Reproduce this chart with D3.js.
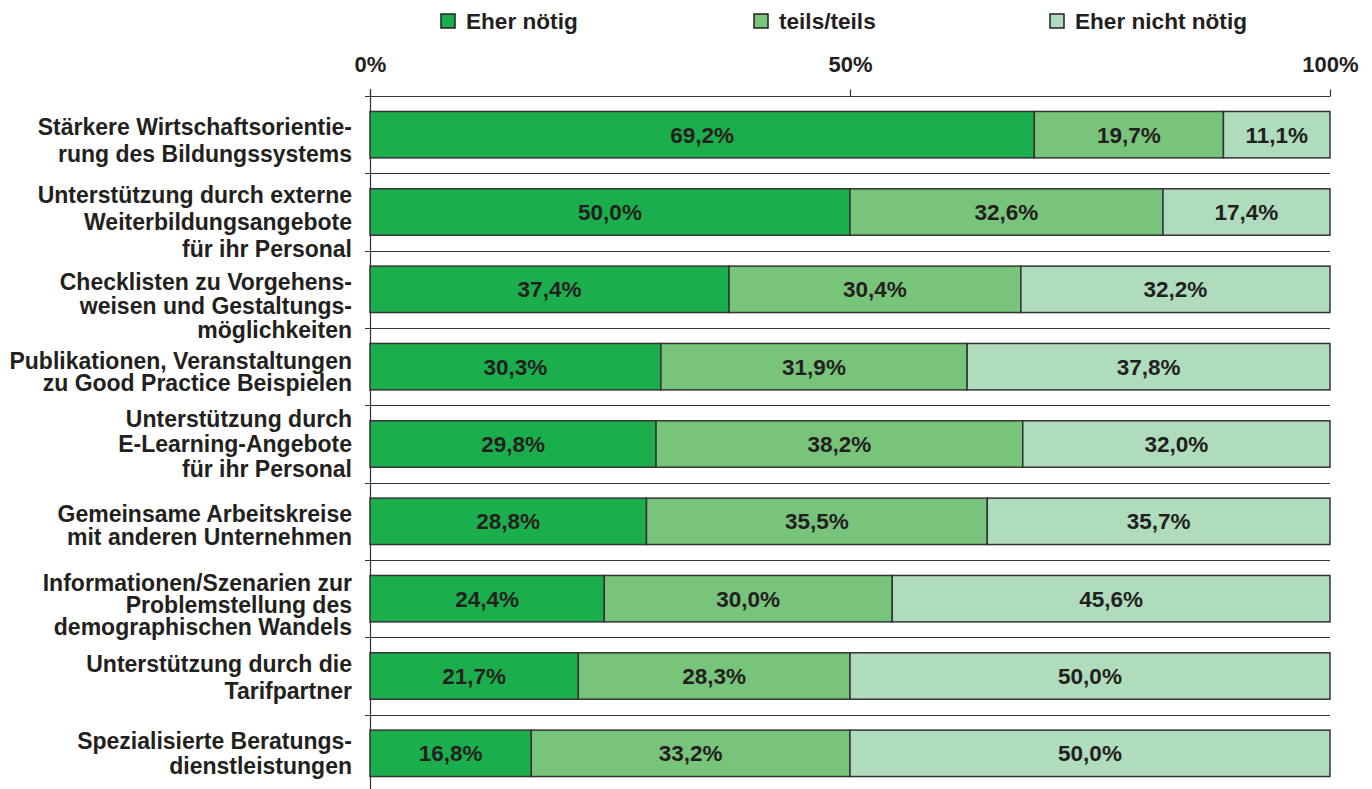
<!DOCTYPE html>
<html>
<head>
<meta charset="utf-8">
<script src="https://cdn.jsdelivr.net/npm/d3@7"></script>
<style>
  body { margin: 0; background: #fff; }
  svg text { font-family: "Liberation Sans", Arial, sans-serif; font-weight: bold; fill: #231f20; }
</style>
</head>
<body>
<div id="chart"></div>
<script>
// Data
var categories = [
  ["Stärkere Wirtschaftsorientie-", "rung des Bildungssystems"],
  ["Unterstützung durch externe", "Weiterbildungsangebote", "für ihr Personal"],
  ["Checklisten zu Vorgehens-", "weisen und Gestaltungs-", "möglichkeiten"],
  ["Publikationen, Veranstaltungen", "zu Good Practice Beispielen"],
  ["Unterstützung durch", "E-Learning-Angebote", "für ihr Personal"],
  ["Gemeinsame Arbeitskreise", "mit anderen Unternehmen"],
  ["Informationen/Szenarien zur", "Problemstellung des", "demographischen Wandels"],
  ["Unterstützung durch die", "Tarifpartner"],
  ["Spezialisierte Beratungs-", "dienstleistungen"]
];
var seriesNames = ["Eher nötig", "teils/teils", "Eher nicht nötig"];
var eherNoetig    = [69.2, 50.0, 37.4, 30.3, 29.8, 28.8, 24.4, 21.7, 16.8];
var teilsTeils    = [19.7, 32.6, 30.4, 31.9, 38.2, 35.5, 30.0, 28.3, 33.2];
var eherNichtNoetig = [11.1, 17.4, 32.2, 37.8, 32.0, 35.7, 45.6, 50.0, 50.0];
var tickValues = [0, 50, 100];

// Layout
var width = 1372, height = 789;
var plotLeft = 370, plotRight = 1330, plotTop = 96, plotBottom = 792;
var colors = ["#1aaf4c", "#79c47b", "#aedcbd"];
var ink = "#231f20";
var fontSize = 23;
// label nudges (center offset, line spacing) per row, as in the original
var labelShift = [7, 11, 18, 6, 1, 5, 7, 2, 1];
var labelGap = [27, 27, 24, 22, 25, 23, 22, 27, 25];

var rows = categories.map(function(c, i) {
  return { idx: i, lines: c, values: [eherNoetig[i], teilsTeils[i], eherNichtNoetig[i]] };
});

var svg = d3.select("#chart").append("svg")
  .attr("width", width)
  .attr("height", height);

var x = d3.scaleLinear().domain([0, 100]).range([plotLeft, plotRight]);
var y = d3.scaleBand()
  .domain(d3.range(categories.length))
  .range([plotTop, plotBottom])
  .paddingInner(0.4)
  .paddingOuter(0.2);
var step = y.step();

// Legend
var legendX = [441, 754, 1050];
var legend = svg.append("g").attr("class", "legend");
seriesNames.forEach(function(name, i) {
  legend.append("rect")
    .attr("x", legendX[i]).attr("y", 14)
    .attr("width", 14).attr("height", 14)
    .attr("fill", colors[i])
    .attr("stroke", ink).attr("stroke-width", 1.5);
  legend.append("text")
    .attr("x", legendX[i] + 25).attr("y", 29)
    .attr("font-size", 22.6)
    .text(name);
});

// Row separator lines
svg.append("g").selectAll("line")
  .data(d3.range(categories.length))
  .enter().append("line")
  .attr("x1", plotLeft - 5).attr("x2", plotRight)
  .attr("y1", function(i) { return Math.round(y(i) - step * 0.2) + 0.5; })
  .attr("y2", function(i) { return Math.round(y(i) - step * 0.2) + 0.5; })
  .attr("stroke", "#333")
  .attr("stroke-width", 1.2);

// Top axis
var xAxis = d3.axisTop(x)
  .tickValues(tickValues)
  .tickSize(7)
  .tickSizeOuter(0)
  .tickPadding(18)
  .tickFormat(function(d) { return d + "%"; });

var axisG = svg.append("g")
  .attr("transform", "translate(0," + (plotTop + 0.5) + ")")
  .call(xAxis);
axisG.select(".domain").remove();
axisG.selectAll(".tick line").attr("stroke", "#333").attr("stroke-width", 1.2);
axisG.selectAll(".tick text")
  .attr("font-size", 22)
  .attr("font-family", "Liberation Sans, Arial, sans-serif")
  .attr("fill", ink);

// Vertical axis line
svg.append("line")
  .attr("x1", plotLeft + 0.5).attr("x2", plotLeft + 0.5)
  .attr("y1", plotTop - 7).attr("y2", height)
  .attr("stroke", "#333").attr("stroke-width", 1.2);

// Bars
var rowG = svg.selectAll("g.row")
  .data(rows)
  .enter().append("g")
  .attr("class", "row");

rowG.each(function(d) {
  var g = d3.select(this);
  var acc = 0;
  d.values.forEach(function(v, k) {
    var x0 = acc, x1 = acc + v;
    acc = x1;
    g.append("rect")
      .attr("x", x(x0))
      .attr("y", y(d.idx))
      .attr("width", x(x1) - x(x0))
      .attr("height", y.bandwidth())
      .attr("fill", colors[k])
      .attr("stroke", "#333")
      .attr("stroke-width", 1.5);
    g.append("text")
      .attr("x", (x(x0) + x(x1)) / 2)
      .attr("y", y(d.idx) + y.bandwidth() / 2 + 8)
      .attr("text-anchor", "middle")
      .attr("font-size", 22.5)
      .text(v.toFixed(1).replace(".", ",") + "%");
  });
});

// Category labels
rowG.each(function(d) {
  var g = d3.select(this);
  var n = d.lines.length;
  var gap = labelGap[d.idx];
  var center = y(d.idx) + y.bandwidth() / 2 + labelShift[d.idx];
  d.lines.forEach(function(line, j) {
    g.append("text")
      .attr("x", 352)
      .attr("y", center + (j - (n - 1) / 2) * gap + 7)
      .attr("text-anchor", "end")
      .attr("font-size", fontSize)
      .text(line);
  });
});
</script>
</body>
</html>
